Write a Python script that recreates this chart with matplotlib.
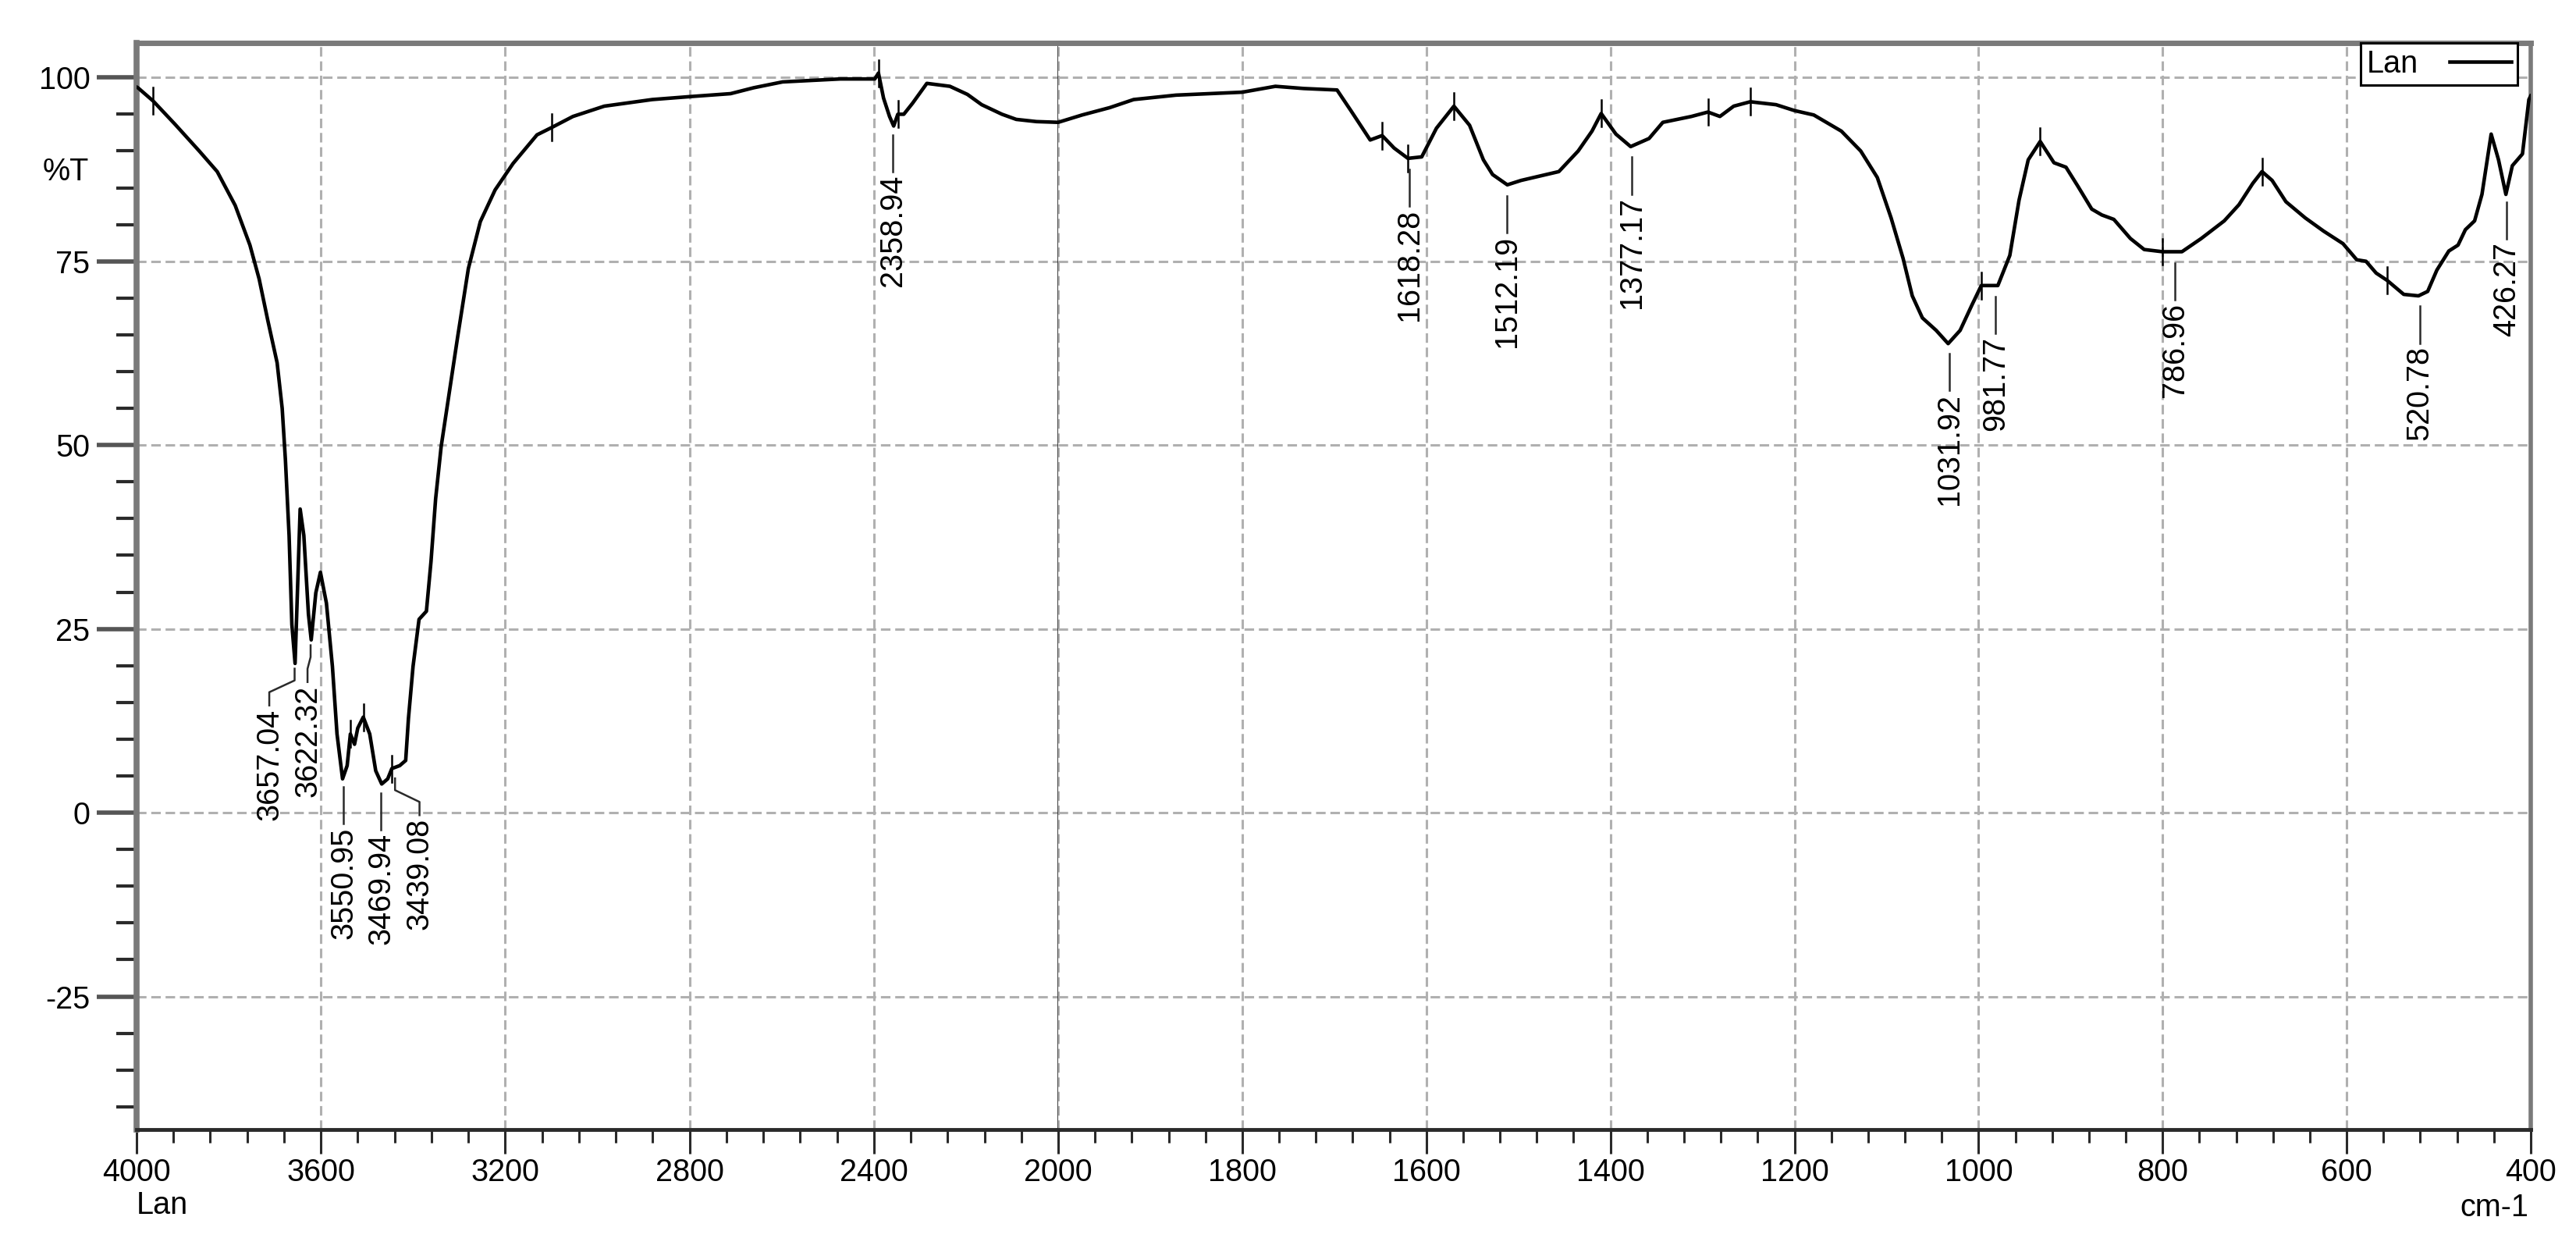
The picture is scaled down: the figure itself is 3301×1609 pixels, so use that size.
import numpy as np
import matplotlib
matplotlib.use("Agg")
import matplotlib.pyplot as plt
from matplotlib.ticker import MultipleLocator, FixedLocator
from matplotlib.transforms import blended_transform_factory
from matplotlib.lines import Line2D

plt.rcParams['font.family'] = ['Liberation Sans', 'DejaVu Sans']
plt.rcParams['axes.unicode_minus'] = False

# spectrum (wavenumber cm-1, %T)
wavenumber = [
    4000, 3997, 3964, 3916, 3864, 3825, 3786, 3754, 3734, 3715, 3695, 3684,
    3677, 3669, 3663, 3656, 3645, 3637, 3627, 3621, 3611, 3601, 3588, 3575,
    3565, 3553, 3543, 3536, 3527, 3520, 3508, 3494, 3481, 3468, 3455, 3446,
    3429, 3416, 3410, 3400, 3387, 3371, 3361, 3351, 3339, 3322, 3303, 3280,
    3254, 3222, 3183, 3131, 3099, 3053, 2985, 2881, 2799, 2711, 2661, 2598,
    2536, 2473, 2398, 2390, 2379, 2366, 2357, 2348, 2335, 2316, 2285, 2235,
    2197, 2166, 2122, 2091, 2047, 2000, 1974, 1944, 1918, 1872, 1800, 1764,
    1733, 1697, 1682, 1661, 1648, 1635, 1620, 1605, 1589, 1570, 1553, 1538,
    1528, 1512, 1497, 1456, 1435, 1420, 1410, 1394, 1378, 1358, 1343, 1312,
    1294, 1281, 1266, 1248, 1220, 1200, 1179, 1149, 1128, 1110, 1095, 1082,
    1072, 1061, 1046, 1033, 1020, 1007, 997, 979, 966, 956, 946, 933,
    918, 905, 892, 877, 866, 853, 835, 820, 800, 779, 758, 733,
    717, 702, 692, 681, 666, 645, 625, 604, 589, 579, 568, 556,
    538, 522, 512, 502, 489, 479, 471, 461, 453, 443, 435, 427,
    420, 409, 402, 400,
]
transmittance = [
    98.7, 98.6, 96.8, 93.6, 90.0, 87.2, 82.6, 77.2, 72.6, 66.9, 61.2, 55.0,
    48.0, 37.7, 25.6, 20.3, 41.3, 37.7, 27.0, 23.5, 29.9, 32.7, 28.5, 19.9,
    10.7, 4.6, 6.4, 10.7, 9.3, 11.5, 13.0, 10.7, 5.7, 3.9, 4.6, 6.0,
    6.4, 7.1, 12.8, 19.9, 26.3, 27.4, 34.2, 42.7, 49.8, 56.9, 64.8, 74.0,
    80.4, 84.7, 88.3, 92.2, 93.2, 94.7, 96.1, 97.0, 97.4, 97.8, 98.6, 99.4,
    99.6, 99.8, 99.8, 100.6, 97.2, 94.7, 93.4, 95.0, 95.0, 96.5, 99.2, 98.8,
    97.7, 96.3, 95.0, 94.3, 94.0, 93.9, 94.9, 95.9, 97.0, 97.6, 98.0, 98.8,
    98.5, 98.3, 95.5, 91.5, 92.1, 90.4, 89.0, 89.2, 93.1, 96.1, 93.5, 88.8,
    86.8, 85.4, 86.0, 87.2, 90.0, 92.7, 95.1, 92.3, 90.6, 91.7, 93.9, 94.7,
    95.3, 94.7, 96.1, 96.7, 96.3, 95.5, 94.9, 92.7, 90.0, 86.4, 80.9, 75.4,
    70.3, 67.3, 65.6, 63.8, 65.6, 69.1, 71.7, 71.7, 75.8, 83.3, 88.8, 91.3,
    88.4, 87.8, 85.2, 82.1, 81.3, 80.7, 78.1, 76.6, 76.3, 76.3, 78.1, 80.5,
    82.7, 85.6, 87.2, 86.0, 83.1, 80.9, 79.1, 77.4, 75.2, 75.0, 73.4, 72.4,
    70.5, 70.3, 70.9, 73.8, 76.4, 77.2, 79.3, 80.5, 84.1, 92.3, 88.8, 84.1,
    88.0, 89.6, 97.0, 97.5,
]

# labelled peaks: position, text, wavenumber where the label text sits
peak_pos = [3657.04, 3622.32, 3550.95, 3469.94, 3439.08, 2358.94, 1618.28,
            1512.19, 1377.17, 1031.92, 981.77, 786.96, 520.78, 426.27]
peak_text = ['3657.04', '3622.32', '3550.95', '3469.94', '3439.08', '2358.94',
             '1618.28', '1512.19', '1377.17', '1031.92', '981.77', '786.96',
             '520.78', '426.27']
label_pos = [3712, 3629, 3550.95, 3469.94, 3386, 2358.94, 1618.28,
             1512.19, 1377.17, 1031.92, 981.77, 786.96, 520.78, 426.27]

# small peak-pick ticks crossing the curve
tick_marks = [3964, 3536, 3508, 3446, 3099, 2390, 2348, 1648, 1620, 1570,
              1410, 1294, 1248, 997, 933, 800, 692, 556]

SPINE_GRAY = '#7a7a7a'
DARK = '#2a2a2a'
FS = 28.5

wn = np.array(wavenumber)
tr = np.array(transmittance)


def curve_at(x):
    return np.interp(x, wn[::-1], tr[::-1])


fig = plt.figure(figsize=(33.01, 16.09), dpi=100)
W, H = 3301, 1609
bottom = 1 - 1447 / H
height = (1447 - 55) / H
ax_l = fig.add_axes([175 / W, bottom, (1356 - 175) / W, height])
ax_r = fig.add_axes([1356 / W, bottom, (3243 - 1356) / W, height], sharey=ax_l)

for ax in (ax_l, ax_r):
    ax.plot(wn, tr, color='black', lw=3.3, zorder=3)
    ax.set_ylim(-43.1, 104.7)
    ax.yaxis.set_major_locator(MultipleLocator(25))
    ax.yaxis.set_minor_locator(MultipleLocator(5))
    ax.grid(True, which='major', color='#b0b0b0', lw=2.2,
            linestyle=(0, (4, 2)), zorder=1)
    ax.tick_params(axis='x', which='major', direction='out', length=22,
                   width=2.2, color=DARK, labelsize=FS, pad=4)
    ax.tick_params(axis='x', which='minor', direction='out', length=12,
                   width=2.2, color=DARK)
    ax.spines['top'].set_color(SPINE_GRAY)
    ax.spines['top'].set_linewidth(5)
    ax.spines['bottom'].set_color(DARK)
    ax.spines['bottom'].set_linewidth(3.5)

ax_l.set_xlim(4000, 2000)
ax_l.xaxis.set_major_locator(FixedLocator([4000, 3600, 3200, 2800, 2400]))
ax_l.xaxis.set_minor_locator(MultipleLocator(80))
ax_r.set_xlim(2000, 400)
ax_r.xaxis.set_major_locator(MultipleLocator(200))
ax_r.xaxis.set_minor_locator(MultipleLocator(40))

# y axis only on the left panel
ax_l.tick_params(axis='y', which='major', direction='out', length=37,
                 width=4, color='#555555', labelsize=FS, pad=6)
ax_l.tick_params(axis='y', which='minor', direction='out', length=19,
                 width=3, color=DARK)
ax_l.spines['left'].set_color(SPINE_GRAY)
ax_l.spines['left'].set_linewidth(5.5)
ax_l.spines['right'].set_color(DARK)
ax_l.spines['right'].set_linewidth(2)
ax_r.tick_params(axis='y', which='both', left=False, labelleft=False)
ax_r.spines['left'].set_visible(False)
ax_r.spines['right'].set_color(SPINE_GRAY)
ax_r.spines['right'].set_linewidth(4)

# peak-pick ticks
for x in tick_marks:
    ax = ax_l if x > 2000 else ax_r
    y = curve_at(x)
    ax.plot([x, x], [y - 1.8, y + 1.8], color='black', lw=1.8, zorder=4)

# peak labels with leader lines
for pk, txt, tx in zip(peak_pos, peak_text, label_pos):
    ax = ax_l if pk > 2000 else ax_r
    y0 = curve_at(pk) - 1.5
    y1 = y0 - 5.0
    if abs(tx - pk) > 1:
        xs = [pk, pk, tx, tx]
        ys = [y0, y0 - 1.6, y1 + 1.8, y1]
    else:
        xs = [pk, pk]
        ys = [y0, y1]
    ax.plot(xs, ys, color=DARK, lw=1.8, zorder=4)
    ax.text(tx, y1 - 0.4, txt, rotation=90, ha='center', va='top',
            fontsize=FS, zorder=5)

# axis texts
trans = blended_transform_factory(ax_l.transAxes, ax_l.transData)
ax_l.text(-0.052, 87.2, '%T', transform=trans, ha='right', va='center',
          fontsize=FS)
fig.text(175 / W, 1 - 1544 / H, 'Lan', ha='left', va='center', fontsize=FS)
fig.text(3240 / W, 1 - 1547 / H, 'cm-1', ha='right', va='center', fontsize=FS)

# legend box in the top right corner
handle = Line2D([], [], color='black', lw=3.3)
leg = ax_r.legend([handle], ['Lan'], loc='upper right',
                  bbox_to_anchor=(0.991, 1.0), markerfirst=False,
                  fancybox=False, framealpha=1, edgecolor='black',
                  fontsize=FS, borderpad=0.2, borderaxespad=0,
                  handlelength=2.0, handletextpad=1.0)
leg.get_frame().set_linewidth(2.2)

fig.savefig('out.png', dpi=100, facecolor='white')
